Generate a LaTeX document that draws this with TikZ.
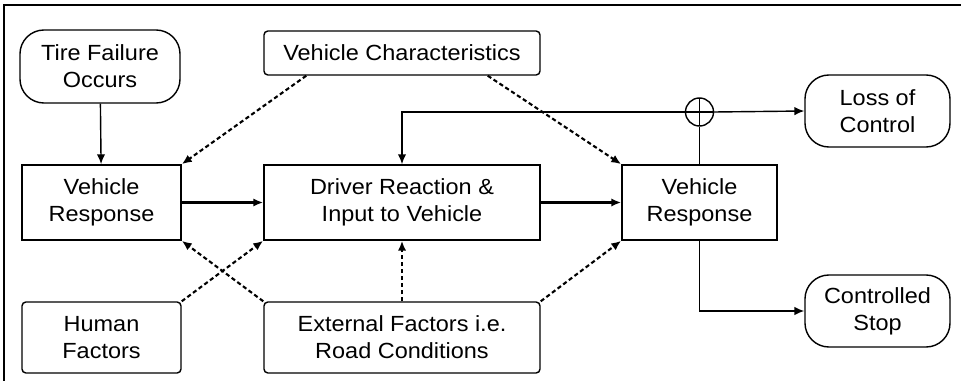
\documentclass[tikz,border=0pt]{standalone}
\usepackage{fontspec}
\setmainfont{Liberation Sans}[FakeStretch=1.07]
\usetikzlibrary{arrows.meta}

\tikzset{
  box/.style={draw, line width=1.2pt, inner sep=0pt, align=center},
  endbox/.style={box, line width=1pt, rounded corners=0.6cm},
  factor/.style={box, line width=1pt, rounded corners=0.1cm},
  arr/.style={line width=1pt, -{Latex[length=7pt,width=6pt]}},
  bigarr/.style={line width=2pt, -{Latex[length=7pt,width=6pt]}},
  infl/.style={line width=1.5pt, dash pattern=on 3pt off 2pt, -{Latex[length=7pt,width=6pt]}},
  sumnode/.style={draw, circle, line width=1pt, minimum size=0.7cm, inner sep=0pt,
    path picture={
      \draw[line width=1pt] (path picture bounding box.north) -- (path picture bounding box.south);
      \draw[line width=1pt] (path picture bounding box.west) -- (path picture bounding box.east);
    }}
}

\begin{document}
\begin{tikzpicture}[x=0.025cm, y=-0.025cm, every node/.style={font=\fontsize{15.6}{19}\selectfont}]
  \useasboundingbox (0,0) rectangle (961,381);
  % frame
  \draw[line width=1pt] (4,381) -- (4,5) -- (961,5);

  % boxes
  \node[endbox, minimum width=4cm, minimum height=1.825cm] (tire) at (100,66.5) {Tire Failure\\Occurs};
  \node[factor, minimum width=6.9cm, minimum height=1.1cm] (vchar) at (402,53) {Vehicle Characteristics};
  \node[box, minimum width=3.975cm, minimum height=1.875cm] (vresp1) at (101.5,202.5) {Vehicle\\Response};
  \node[box, minimum width=6.9cm, minimum height=1.875cm] (driver) at (402,202.5) {Driver Reaction \&\\Input to Vehicle};
  \node[box, minimum width=3.875cm, minimum height=1.875cm] (vresp2) at (699.5,202.5) {Vehicle\\Response};
  \node[endbox, minimum width=3.625cm, minimum height=1.8cm] (loss) at (877.5,111) {Loss of\\Control};
  \node[endbox, minimum width=3.625cm, minimum height=1.8cm] (stop) at (877.5,311) {Controlled\\Stop};
  \node[factor, minimum width=3.975cm, minimum height=1.775cm] (human) at (101.5,337.5) {Human\\Factors};
  \node[factor, minimum width=6.9cm, minimum height=1.775cm] (ext) at (402,337.5) {External Factors i.e.\\Road Conditions};
  \node[sumnode] (sum) at (699.5,112) {};

  % main flow
  \draw[arr] (tire) -- (vresp1);
  \draw[bigarr] (vresp1) -- (driver);
  \draw[bigarr] (driver) -- (vresp2);
  \draw[line width=1pt] (vresp2.north) -- (sum.south);
  \draw[arr] (sum.east) -- (loss.west);
  \draw[arr] (sum.west) -| (driver.north);
  \draw[arr] (vresp2.south) |- (stop.west);

  % influences
  \draw[infl] ([xshift=1.075cm]vchar.south west) -- (vresp1.north east);
  \draw[infl] ([xshift=-1.325cm]vchar.south east) -- (vresp2.north west);
  \draw[infl] (human.north east) -- (driver.south west);
  \draw[infl] (ext.north west) -- (vresp1.south east);
  \draw[infl, line width=2pt] (ext.north) -- (driver.south);
  \draw[infl] (ext.north east) -- (vresp2.south west);
\end{tikzpicture}
\end{document}
